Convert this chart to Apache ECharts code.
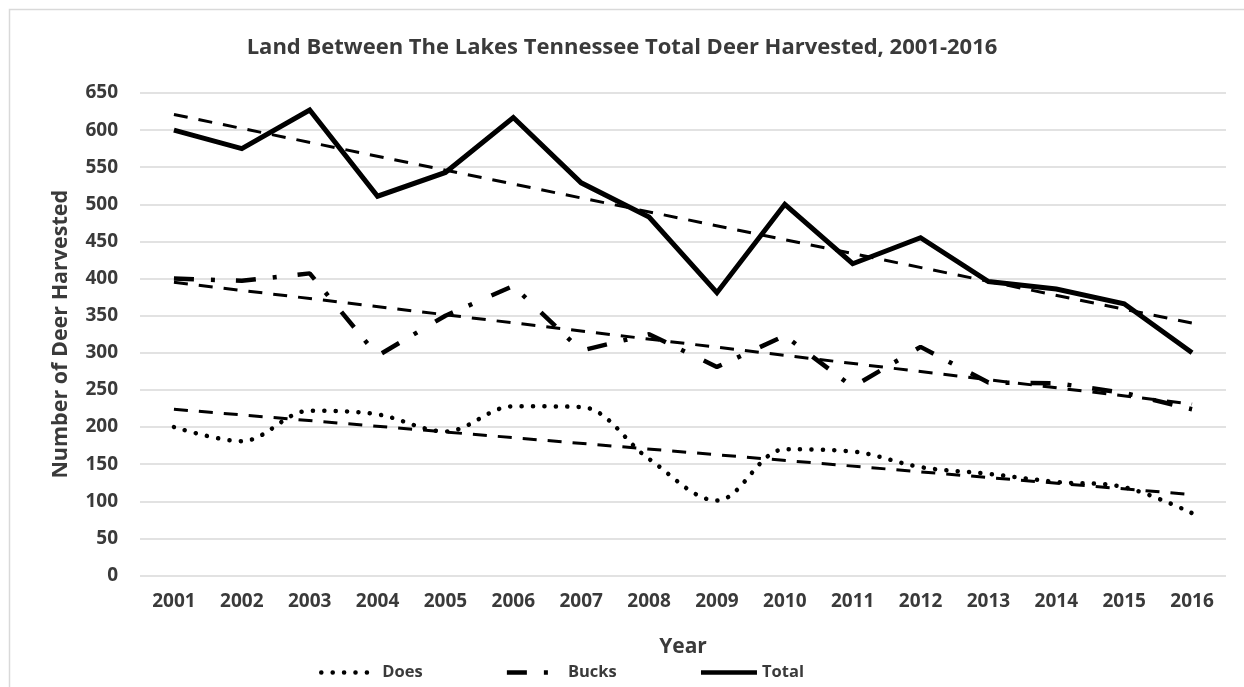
<!DOCTYPE html>
<html>
<head>
<meta charset="utf-8">
<title>Land Between The Lakes Tennessee Total Deer Harvested, 2001-2016</title>
<script src="https://cdn.jsdelivr.net/npm/echarts@6/dist/echarts.min.js"></script>
<style>
  html, body { margin: 0; padding: 0; background: #ffffff; }
  #chart { width: 1244px; height: 687px; }
</style>
</head>
<body>
<div id="chart"></div>
<script>
// Harvest seasons shown on the category axis
const years = ['2001','2002','2003','2004','2005','2006','2007','2008',
               '2009','2010','2011','2012','2013','2014','2015','2016'];

// Deer harvested per season
const does   = [200, 181, 222, 217, 194, 228, 227, 157, 101, 170, 167, 146, 137, 126, 119, 84];
const bucks  = [400, 397, 407, 296, 350, 390, 303, 325, 281, 323, 254, 308, 260, 259, 246, 224];
const totals = [600, 575, 627, 511, 543, 617, 529, 483, 381, 500, 420, 455, 396, 386, 366, 300];

// Linear trend lines: value at the first and at the last season
const doesTrend  = [224, 109];
const bucksTrend = [395, 231];
const totalTrend = [621, 340];

// Y axis tick spacing and range
const yMin = 0, yMax = 650, yStep = 50;

const textColor = '#3a3a3a';
const fontFamily = '"Open Sans", "Noto Sans", sans-serif';

// A trend series only holds its two end points; the line joins them
function trendData(ends) {
  return years.map((y, i) => i === 0 ? ends[0] : (i === years.length - 1 ? ends[1] : null));
}

function trendSeries(name, ends) {
  return {
    name: name,
    type: 'line',
    data: trendData(ends),
    connectNulls: true,
    symbol: 'none',
    silent: true,
    color: '#000',
    z: 3,
    lineStyle: { color: '#000', width: 3, type: [14, 11], cap: 'butt' }
  };
}

const chart = echarts.init(document.getElementById('chart'), null, { renderer: 'canvas' });

chart.setOption({
  backgroundColor: '#ffffff',
  animation: false,
  color: ['#000'],
  textStyle: { fontFamily: fontFamily },
  graphic: [{
    type: 'rect',
    left: 7, top: 7,
    shape: { width: 1260, height: 700 },
    style: { fill: 'none', stroke: '#d9d9d9', lineWidth: 1.5 },
    silent: true,
    z: -1
  }],
  title: {
    text: 'Land Between The Lakes Tennessee Total Deer Harvested, 2001-2016',
    left: 'center',
    top: 32,
    textStyle: { fontSize: 22, fontWeight: 'bold', color: textColor, fontFamily: fontFamily }
  },
  legend: {
    data: ['Does', 'Bucks', 'Total'],
    top: 659,
    left: 314,
    itemWidth: 56,
    itemHeight: 14,
    itemGap: 82,
    itemStyle: { opacity: 0 },
    lineStyle: { width: 4.5, color: '#000' },
    textStyle: { fontSize: 16.5, fontWeight: 'bold', color: textColor, fontFamily: fontFamily }
  },
  grid: { left: 140, right: 18, top: 93, bottom: 111.5, containLabel: false },
  xAxis: {
    type: 'category',
    data: years,
    boundaryGap: true,
    name: 'Year',
    nameLocation: 'middle',
    nameGap: 61,
    nameTextStyle: { fontSize: 21, fontWeight: 'bold', color: textColor, fontFamily: fontFamily },
    axisLine: { show: false },
    axisTick: { show: false },
    axisLabel: { fontSize: 19, fontWeight: 'bold', color: textColor, margin: 17, fontFamily: fontFamily },
    splitLine: { show: false }
  },
  yAxis: {
    type: 'value',
    min: yMin, max: yMax, interval: yStep,
    name: 'Number of Deer Harvested',
    nameLocation: 'middle',
    nameGap: 68,
    nameTextStyle: { fontSize: 21.5, fontWeight: 'bold', color: textColor, fontFamily: fontFamily },
    axisLine: { show: false },
    axisTick: { show: false },
    axisLabel: { fontSize: 19, fontWeight: 'bold', color: textColor, margin: 22, fontFamily: fontFamily },
    splitLine: { show: true, lineStyle: { color: '#d9d9d9', width: 1.5 } }
  },
  series: [
    {
      name: 'Does',
      type: 'line',
      data: does,
      smooth: 0.35,
      symbol: 'none',
      color: '#000',
      z: 4,
      lineStyle: { color: '#000', width: 4.5, type: [0.1, 11.3], cap: 'round' }
    },
    {
      name: 'Bucks',
      type: 'line',
      data: bucks,
      symbol: 'none',
      color: '#000',
      z: 4,
      lineStyle: { color: '#000', width: 4.5, type: [20, 17, 4, 21], cap: 'butt' }
    },
    {
      name: 'Total',
      type: 'line',
      data: totals,
      symbol: 'none',
      color: '#000',
      z: 4,
      lineStyle: { color: '#000', width: 5, type: 'solid', join: 'miter' }
    },
    trendSeries('Does trend', doesTrend),
    trendSeries('Bucks trend', bucksTrend),
    trendSeries('Total trend', totalTrend)
  ]
});
</script>
</body>
</html>
